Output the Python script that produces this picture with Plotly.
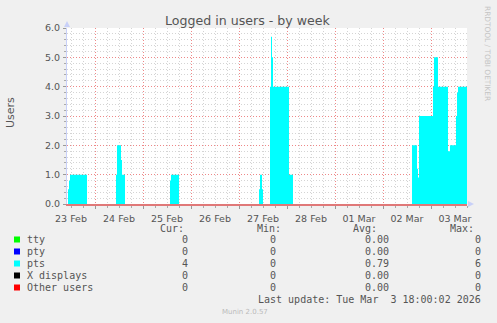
import plotly.graph_objects as go
import pandas as pd

# ---- data ----
pts_times = [
    "2026-02-23 10:00", "2026-02-23 10:30", "2026-02-23 11:00", "2026-02-23 11:30",
    "2026-02-23 20:00", "2026-02-24 10:30", "2026-02-24 11:00", "2026-02-24 13:00",
    "2026-02-24 13:30", "2026-02-24 15:00", "2026-02-25 13:30", "2026-02-25 14:00",
    "2026-02-25 18:00", "2026-02-27 10:00", "2026-02-27 10:30", "2026-02-27 11:30",
    "2026-02-27 12:00", "2026-02-27 15:30", "2026-02-27 16:00", "2026-02-27 16:30",
    "2026-02-27 17:00", "2026-02-28 01:00", "2026-02-28 03:00", "2026-03-02 14:30",
    "2026-03-02 17:00", "2026-03-02 17:30", "2026-03-02 18:00", "2026-03-03 01:00",
    "2026-03-03 01:30", "2026-03-03 03:30", "2026-03-03 08:30", "2026-03-03 09:30",
    "2026-03-03 12:30", "2026-03-03 13:00", "2026-03-03 13:30", "2026-03-03 18:00",
]
pts_values = [
    0, 0.5, 0.8, 1.0,
    0, 1.0, 2.0, 1.5,
    1.0, 0, 0.8, 1.0,
    0, 0.5, 1.0, 0.5,
    0, 4.0, 5.7, 5.0,
    4.0, 1.0, 0, 2.0,
    1.2, 0.9, 3.0, 4.0,
    5.0, 4.0, 1.8, 2.0,
    3.0, 3.8, 4.0, 4.0,
]

x_range = ["2026-02-23 10:00", "2026-03-03 18:00"]
y_ticks = [0, 1, 2, 3, 4, 5, 6]

series_names = ["tty", "pty", "pts", "X displays", "Other users"]
series_colors = ["#00FF00", "#0000FF", "#00FFFF", "#000000", "#FF0000"]
cur_vals = ["0", "0", "4", "0", "0"]
min_vals = ["0", "0", "0", "0", "0"]
avg_vals = ["0.00", "0.00", "0.79", "0.00", "0.00"]
max_vals = ["0", "0", "6", "0", "0"]

title = "Logged in users - by week"
last_update = "Last update: Tue Mar  3 18:00:02 2026"

# ---- layout geometry (pixels) ----
W, H = 497, 323
L, R, T, B = 67, 467, 28, 204


def px(x):
    return (x - L) / (R - L)


def py(y):
    return (B - y) / (B - T)


minor_times = [t for t in pd.date_range("2026-02-23", "2026-03-04", freq="6h") if t.hour != 0]
minor_y = [round(i * 0.2, 1) for i in range(31) if i % 5 != 0]

fig = go.Figure()
fig.add_trace(go.Scatter(
    x=pts_times, y=pts_values, mode="lines", line=dict(width=0, shape="hv"),
    fill="tozeroy", fillcolor="#00FFFF", hoverinfo="skip", showlegend=False,
))

major = "#EE8888"
minor = "#D4D4D4"
dash = "1px,2px"
tickfont = dict(family="DejaVu Sans", size=9.5, color="#555555")

fig.update_layout(
    width=W, height=H,
    margin=dict(l=L, r=W - R, t=T, b=H - B),
    paper_bgcolor="#F0F0F0", plot_bgcolor="#FFFFFF",
    showlegend=False,
    xaxis=dict(
        type="date", range=x_range, tickformat="%d %b", dtick=86400000,
        tick0="2026-02-23 00:00", ticklabelmode="period",
        showgrid=True, gridcolor=major, griddash=dash, gridwidth=1,
        ticks="outside", ticklen=3, tickcolor="#999999",
        showline=True, linecolor="#E07878", linewidth=1.5,
        tickfont=tickfont, ticklabelstandoff=2,
        minor=dict(tickvals=minor_times, showgrid=True, gridcolor=minor, gridwidth=1,
                   griddash=dash, ticks="outside", ticklen=2, tickcolor="#aaaaaa"),
        fixedrange=True, zeroline=False,
    ),
    yaxis=dict(
        range=[0, 6], tickvals=y_ticks, tickformat=".1f",
        showgrid=True, gridcolor=major, griddash=dash, gridwidth=1,
        ticks="outside", ticklen=3, tickcolor="#999999",
        showline=True, linecolor="#C8D0F8", linewidth=1,
        tickfont=tickfont, ticklabelstandoff=1,
        minor=dict(tickvals=minor_y, showgrid=True, gridcolor=minor, griddash=dash, gridwidth=1,
                   ticks="outside", ticklen=2, tickcolor="#aaaaaa"),
        zeroline=False, fixedrange=True,
    ),
)

ann = []
ann.append(dict(text=title, x=px(248), y=py(20), xref="paper", yref="paper",
                showarrow=False, xanchor="center", yanchor="middle",
                font=dict(family="DejaVu Sans", size=12.6, color="#555555")))
ann.append(dict(text="Users", x=px(10), y=py(113), xref="paper", yref="paper",
                showarrow=False, xanchor="center", yanchor="middle", textangle=-90,
                font=dict(family="DejaVu Sans", size=11, color="#555555")))
ann.append(dict(text="RRDTOOL / TOBI OETIKER", x=px(488), y=py(53), xref="paper",
                yref="paper", showarrow=False, xanchor="center", yanchor="middle",
                textangle=90, font=dict(family="DejaVu Sans", size=7.4, color="#C4C4C4")))
ann.append(dict(text="Munin 2.0.57", x=px(245), y=py(312), xref="paper", yref="paper",
                showarrow=False, xanchor="center", yanchor="middle",
                font=dict(family="DejaVu Sans", size=7, color="#BBBBBB")))

mono = dict(family="DejaVu Sans Mono", size=10, color="#555555")


def txt(s, x, y, anchor):
    ann.append(dict(text=s.replace(" ", "&nbsp;"), x=px(x), y=py(y), xref="paper",
                    yref="paper", showarrow=False, xanchor=anchor, yanchor="middle",
                    font=mono))


header_y = 228.5
txt("Cur:", 158, header_y, "left")
txt("Min:", 254.5, header_y, "left")
txt("Avg:", 351, header_y, "left")
txt("Max:", 447.5, header_y, "left")

row_y = [239.5, 251.5, 263.5, 275.5, 287.5]
shapes = []
for i, name in enumerate(series_names):
    y = row_y[i]
    shapes.append(dict(type="rect", xref="paper", yref="paper",
                       x0=px(14), x1=px(20), y0=py(y + 3), y1=py(y - 3),
                       fillcolor=series_colors[i], line=dict(width=0)))
    txt(name, 25, y, "left")
    txt(cur_vals[i], 190, y, "right")
    txt(min_vals[i], 278, y, "right")
    txt(avg_vals[i], 391, y, "right")
    txt(max_vals[i], 483, y, "right")

txt(last_update, 483, 299, "right")

# axis arrows
shapes.append(dict(type="path", xref="paper", yref="paper",
                   path=f"M {px(64)} {py(27)} L {px(70)} {py(27)} L {px(67)} {py(21)} Z",
                   fillcolor="#C8D0F8", line=dict(width=0)))
shapes.append(dict(type="path", xref="paper", yref="paper",
                   path=f"M {px(468)} {py(201)} L {px(468)} {py(207)} L {px(474)} {py(204)} Z",
                   fillcolor="#C8D0F8", line=dict(width=0)))

fig.update_layout(annotations=ann, shapes=shapes)
fig.write_html("out.html")
